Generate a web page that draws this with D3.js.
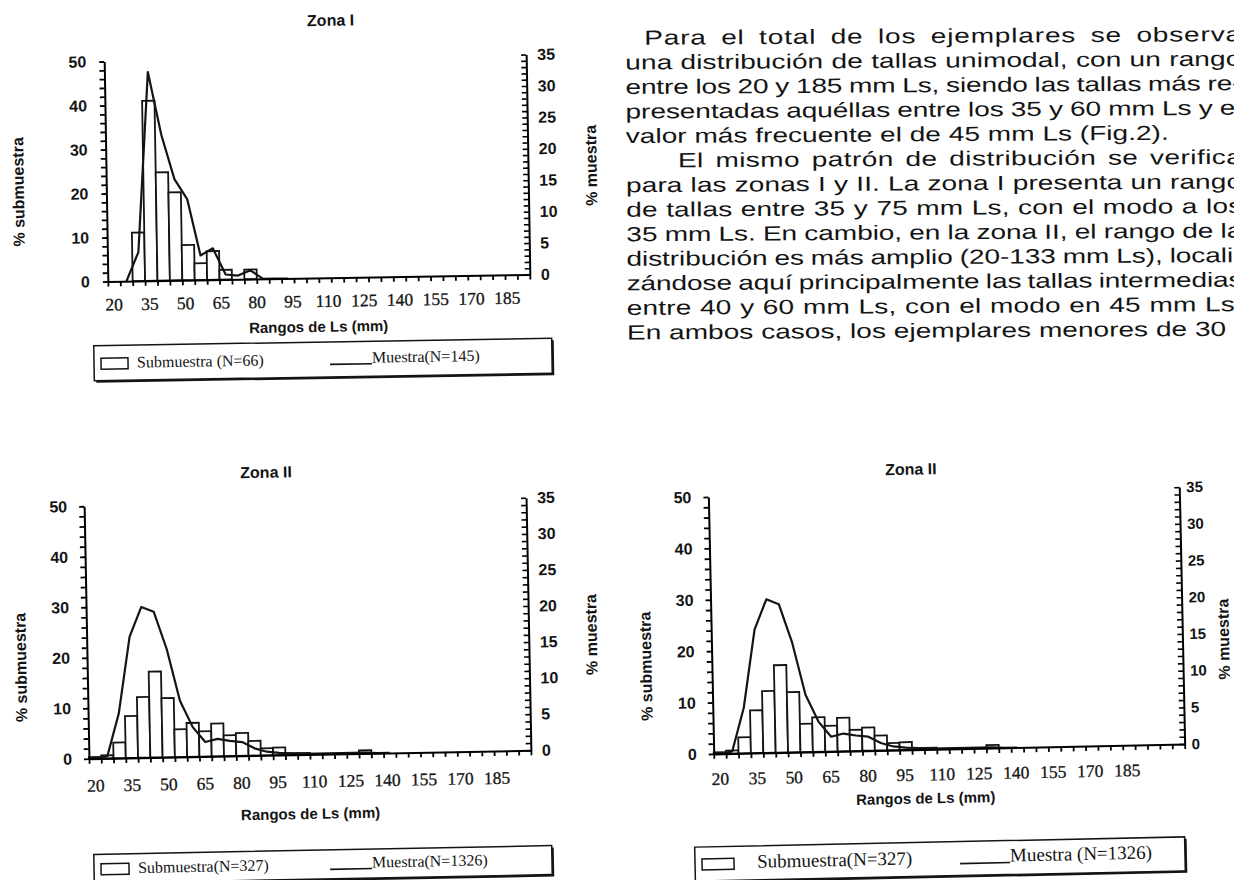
<!DOCTYPE html>
<html>
<head>
<meta charset="utf-8">
<script src="https://cdn.jsdelivr.net/npm/d3@7"></script>
<style>
  html, body { margin: 0; padding: 0; background: #fff; }
  svg { display: block; }
</style>
</head>
<body>
<svg id="page" width="1234" height="880"></svg>
<script>
// Size classes (mm Ls), one category per 5 mm
const classesZonaI = [20, 25, 30, 35, 40, 45, 50, 55, 60, 65, 70, 75, 80, 85, 90, 95, 100, 105,
  110, 115, 120, 125, 130, 135, 140, 145, 150, 155, 160, 165, 170, 175, 180, 185];
const classesZonaII = [20, 25, 30, 35, 40, 45, 50, 55, 60, 65, 70, 75, 80, 85, 90, 95, 100, 105,
  110, 115, 120, 125, 130, 135, 140, 145, 150, 155, 160, 165, 170, 175, 180, 185, 190, 195];
const classesZonaIIb = [20, 25, 30, 35, 40, 45, 50, 55, 60, 65, 70, 75, 80, 85, 90, 95, 100, 105,
  110, 115, 120, 125, 130, 135, 140, 145, 150, 155, 160, 165, 170, 175, 180, 185, 190, 195, 200, 205];
const tickLabels = ["20", "35", "50", "65", "80", "95", "110", "125", "140", "155", "170", "185"];

// % submuestra per class, starting at 20 mm
const subZonaI = [0, 0, 11.0, 40.9, 24.6, 20.0, 8.0, 3.8, 6.5, 2.2, 0, 2.2];
const subZonaII = [0.3, 0.6, 3.1, 8.3, 12.0, 17.0, 11.7, 5.5, 6.7, 5.0, 6.5, 4.1, 4.5, 2.9,
  1.4, 1.5, 0.3, 0.3, 0, 0, 0, 0, 0.6];

// % muestra per class, starting at 20 mm (null: no value)
const muestraZonaI = [null, 0, 4.6, 33.2, 23.2, 16.1, 12.9, 3.9, 5.0, 0.8, 0.6, 1.4, 0, 0, 0];
const muestraZonaII = [0, 0.3, 6.2, 16.8, 20.9, 20.2, 15.0, 7.8, 4.1, 2.0, 2.4, 2.1, 1.9, 1.0,
  0.5, 0.3, 0.2, 0.1, 0.1, 0.1, 0.1, 0.1, 0.1, 0, 0];

const titles = ["Zona I", "Zona II", "Zona II"];
const legendZonaI = ["Submuestra (N=66)", "Muestra(N=145)"];
const legendZonaIIa = ["Submuestra(N=327)", "Muestra(N=1326)"];
const legendZonaIIb = ["Submuestra(N=327)", "Muestra (N=1326)"];

const paragraph = [
  "Para el total de los ejemplares se observa",
  "una distribución de tallas unimodal, con un rango",
  "entre los 20 y 185 mm Ls, siendo las tallas más re-",
  "presentadas aquéllas entre los 35 y 60 mm Ls y el",
  "valor más frecuente el de 45 mm Ls (Fig.2).",
  "El mismo patrón de distribución se verifica",
  "para las zonas I y II. La zona I presenta un rango",
  "de tallas entre 35 y 75 mm Ls, con el modo a los",
  "35 mm Ls. En cambio, en la zona II, el rango de la",
  "distribución es más amplio (20-133 mm Ls), locali-",
  "zándose aquí principalmente las tallas intermedias",
  "entre 40 y 60 mm Ls, con el modo en 45 mm Ls.",
  "En ambos casos, los ejemplares menores de 30"
];
// lines that open a paragraph, and lines set ragged (not justified)
const paragraphStarts = [0, 5];
const raggedLines = [4, 12];

const SANS = "'Liberation Sans', Arial, Helvetica, sans-serif";
const SERIF = "'Liberation Serif', 'Times New Roman', serif";
const INK = "#141414";

const svg = d3.select("#page");

function drawChart(cfg) {
  const g = svg.append("g")
    .attr("transform", `rotate(${cfg.rot}, ${(cfg.x0 + cfg.x1) / 2}, ${(cfg.yTop + cfg.yBase) / 2})`);

  const x = d3.scaleBand().domain(cfg.classes).range([cfg.x0, cfg.x1]).padding(0);
  const yL = d3.scaleLinear().domain([0, 50]).range([cfg.yBase, cfg.yTop]);
  const yR = d3.scaleLinear().domain([0, 35]).range([cfg.yBase, cfg.yTop]);
  const xl = d3.scalePoint().domain(tickLabels).range(cfg.labelRange);

  const subRows = cfg.sub.map((v, i) => ({ c: cfg.classes[i], v }));
  const mueRows = cfg.mue.map((v, i) => ({ c: cfg.classes[i], v }));

  // histogram of the subsample
  g.append("g").selectAll("rect")
    .data(subRows.filter(d => d.v > 0))
    .join("rect")
    .attr("x", d => x(d.c))
    .attr("y", d => yL(d.v))
    .attr("width", x.bandwidth())
    .attr("height", d => yL(0) - yL(d.v))
    .attr("fill", "#fff")
    .attr("stroke", INK)
    .attr("stroke-width", 1.8);

  // full sample polygon on the right-hand scale
  const line = d3.line()
    .defined(d => d.v != null)
    .x(d => x(d.c) + x.bandwidth() / 2)
    .y(d => yR(d.v));
  g.append("path")
    .attr("d", line(mueRows))
    .attr("fill", "none")
    .attr("stroke", INK)
    .attr("stroke-width", 2.2)
    .attr("stroke-linejoin", "round");

  // category axis: one tick per class boundary
  const xb = d3.scaleLinear().domain([0, cfg.classes.length]).range([cfg.x0, cfg.x1]);
  const ax = g.append("g")
    .attr("transform", `translate(0,${cfg.yBase})`)
    .call(d3.axisBottom(xb).tickValues(d3.range(cfg.classes.length + 1)).tickSize(5).tickSizeOuter(0).tickFormat(""));
  ax.select(".domain").attr("stroke-width", 2);
  ax.selectAll(".tick line").attr("stroke-width", 1.8);

  g.append("g").selectAll("text")
    .data(tickLabels)
    .join("text")
    .attr("x", d => xl(d))
    .attr("y", cfg.yBase + cfg.labelDy)
    .attr("text-anchor", "middle")
    .attr("font-family", SERIF)
    .attr("font-size", 17.5)
    .attr("fill", INK)
    .attr("stroke", INK)
    .attr("stroke-width", 0.3)
    .text(d => d);

  // left axis (% submuestra)
  const axL = g.append("g")
    .attr("transform", `translate(${cfg.x0},0)`)
    .call(d3.axisLeft(yL).tickValues(d3.range(0, 51, 2)).tickSize(5).tickSizeOuter(0).tickPadding(cfg.padL)
      .tickFormat(d => d % 10 === 0 ? d : ""));
  axL.select(".domain").attr("stroke-width", 2);
  axL.selectAll(".tick line").attr("stroke-width", 1.8);
  axL.selectAll("text").attr("font-family", SANS).attr("font-weight", "bold").attr("font-size", 16).attr("fill", INK);

  // right axis (% muestra), ticks turned toward the plot
  const axR = g.append("g")
    .attr("transform", `translate(${cfg.x1},0)`)
    .call(d3.axisRight(yR).tickValues(d3.range(0, 36, 1)).tickSizeInner(-5).tickSizeOuter(0).tickPadding(cfg.padR)
      .tickFormat(d => d % 5 === 0 ? d : ""));
  axR.select(".domain").attr("stroke-width", 2);
  axR.selectAll(".tick line").attr("stroke-width", 1.6);
  axR.selectAll("text").attr("font-family", SANS).attr("font-weight", "bold").attr("font-size", cfg.fsR).attr("fill", INK);

  // titles
  g.append("text")
    .attr("x", cfg.title[0]).attr("y", cfg.title[1])
    .attr("text-anchor", "middle")
    .attr("font-family", SANS).attr("font-weight", "bold").attr("font-size", 16).attr("fill", INK)
    .text(cfg.titleText);
  g.append("text")
    .attr("x", cfg.xTitle[0]).attr("y", cfg.xTitle[1])
    .attr("text-anchor", "middle")
    .attr("font-family", SANS).attr("font-weight", "bold").attr("font-size", 15).attr("fill", INK)
    .text("Rangos de Ls (mm)");
  g.append("text")
    .attr("transform", `translate(${cfg.yTitleL[0]},${cfg.yTitleL[1]}) rotate(-90)`)
    .attr("text-anchor", "middle").attr("dy", "0.35em")
    .attr("font-family", SANS).attr("font-weight", "bold").attr("font-size", 16).attr("fill", INK)
    .text("% submuestra");
  g.append("text")
    .attr("transform", `translate(${cfg.yTitleR[0]},${cfg.yTitleR[1]}) rotate(-90)`)
    .attr("text-anchor", "middle").attr("dy", "0.35em")
    .attr("font-family", SANS).attr("font-weight", "bold").attr("font-size", 16).attr("fill", INK)
    .text("% muestra");

  // legend box with a drop shadow
  const L = cfg.legend;
  const lg = svg.append("g")
    .attr("transform", `rotate(${cfg.rot}, ${(L.x0 + L.x1) / 2}, ${(L.y0 + L.y1) / 2})`);
  lg.append("rect")
    .attr("x", L.x0 + 2).attr("y", L.y0 + 2)
    .attr("width", L.x1 - L.x0).attr("height", L.y1 - L.y0)
    .attr("fill", INK);
  lg.append("rect")
    .attr("x", L.x0).attr("y", L.y0)
    .attr("width", L.x1 - L.x0).attr("height", L.y1 - L.y0)
    .attr("fill", "#fff").attr("stroke", INK).attr("stroke-width", 1.5);
  const cy = (L.y0 + L.y1) / 2;
  lg.append("rect")
    .attr("x", L.x0 + 7).attr("y", cy - 5)
    .attr("width", L.sw).attr("height", 11)
    .attr("fill", "#fff").attr("stroke", INK).attr("stroke-width", 1.5);
  lg.append("text")
    .attr("x", L.textX).attr("y", cy + 5)
    .attr("font-family", SERIF).attr("font-size", L.fs).attr("fill", INK)
    .text(cfg.legendText[0]);
  lg.append("line")
    .attr("x1", L.lineX).attr("x2", L.lineX + L.lw)
    .attr("y1", cy + 5).attr("y2", cy + 5)
    .attr("stroke", INK).attr("stroke-width", 1.6);
  lg.append("text")
    .attr("x", L.lineX + L.lw).attr("y", cy + 4)
    .attr("font-family", SERIF).attr("font-size", L.fs).attr("fill", INK)
    .text(cfg.legendText[1]);
}

drawChart({
  classes: classesZonaI, sub: subZonaI, mue: muestraZonaI,
  titleText: titles[0], legendText: legendZonaI,
  x0: 106, x1: 528, yTop: 58, yBase: 278, rot: -0.95,
  labelRange: [112, 505], labelDy: 29, padL: 13, padR: 11, fsR: 16,
  title: [333, 26], xTitle: [316, 332],
  yTitleL: [18, 187], yTitleR: [591, 170],
  legend: { x0: 94, x1: 552, y0: 342, y1: 377, lineX: 330, lw: 42, textX: 137, sw: 27, fs: 16 }
});

drawChart({
  classes: classesZonaII, sub: subZonaII, mue: muestraZonaII,
  titleText: titles[1], legendText: legendZonaIIa,
  x0: 86.5, x1: 528.5, yTop: 502, yBase: 754.5, rot: -1.1,
  labelRange: [93, 494], labelDy: 33, padL: 12, padR: 11, fsR: 16,
  title: [269, 477], xTitle: [307, 819],
  yTitleL: [20, 662], yTitleR: [591, 640],
  legend: { x0: 94, x1: 552, y0: 850, y1: 879, lineX: 330, lw: 42, textX: 138, sw: 28, fs: 16 }
});

drawChart({
  classes: classesZonaIIb, sub: subZonaII, mue: muestraZonaII,
  titleText: titles[2], legendText: legendZonaIIb,
  x0: 711, x1: 1182, yTop: 492, yBase: 749, rot: -1.2,
  labelRange: [717, 1124], labelDy: 31, padL: 12, padR: 7, fsR: 15,
  title: [914, 474], xTitle: [922, 803],
  yTitleL: [645, 660], yTitleR: [1223, 645],
  legend: { x0: 695, x1: 1185, y0: 842, y1: 876, lineX: 960, lw: 50, textX: 757, sw: 32, fs: 19 }
});

// running text beside the charts, justified to a column edge that lies past
// the page border; the extra room is shared between letters and word gaps
const sx = 1.37;
const colLeft = 626, colRight = 1242;
const toLocal = v => colLeft + (v - colLeft) / sx;
const lineStart = i => i === paragraphStarts[0] ? toLocal(645) : (i === paragraphStarts[1] ? toLocal(678) : colLeft);
const tg = svg.append("g")
  .attr("transform", `rotate(-0.35, 930, 180) translate(${colLeft},0) scale(${sx},1) translate(${-colLeft},0)`);
tg.selectAll("text")
  .data(paragraph)
  .join("text")
  .attr("x", (d, i) => lineStart(i))
  .attr("y", (d, i) => 43 + i * 24.55)
  .attr("font-family", SANS)
  .attr("font-size", 20.5)
  .attr("fill", INK)
  .text(d => d)
  .each(function (d, i) {
    if (raggedLines.includes(i)) return;
    const natural = this.getComputedTextLength();
    const extra = toLocal(colRight) - lineStart(i) - natural;
    const gaps = (d.match(/ /g) || []).length;
    const letters = d.length - 1;
    const ls = 0.45 * extra / letters;
    const ws = gaps > 0 ? (extra - ls * letters) / gaps : 0;
    d3.select(this).attr("letter-spacing", ls).attr("word-spacing", ws);
  });
</script>
</body>
</html>
